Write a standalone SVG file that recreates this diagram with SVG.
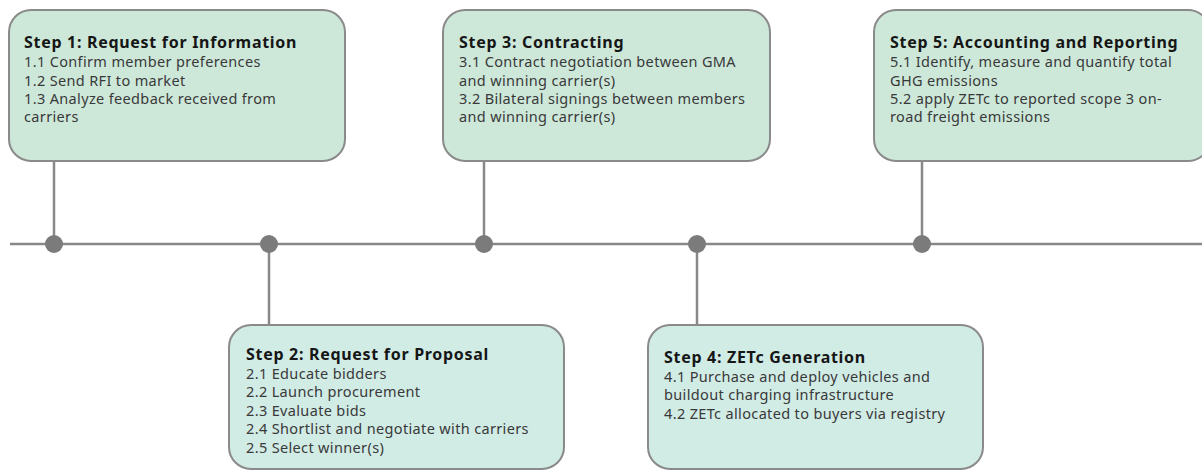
<svg xmlns="http://www.w3.org/2000/svg" width="1202" height="473" viewBox="0 0 1202 473">
<style>
.box{stroke:#8a8a8a;stroke-width:2}
.top{fill:#cde8d9}
.bot{fill:#d1ebe5}
.t{font-family:"Noto Sans","Liberation Sans",sans-serif;font-weight:bold;font-size:16px;letter-spacing:0.7px;fill:#161616}
.b{font-family:"Noto Sans","Liberation Sans",sans-serif;font-size:14.5px;letter-spacing:0.35px;fill:#393939}
.ln{stroke:#888;stroke-width:2.5;fill:none}
.dot{fill:#7b7b7b}
</style>
<g id="connectors">
<line class="ln" x1="10" y1="244" x2="1202" y2="244"/>
<line class="ln" x1="54" y1="161" x2="54" y2="244"/>
<line class="ln" x1="269" y1="244" x2="269" y2="325"/>
<line class="ln" x1="484" y1="161" x2="484" y2="244"/>
<line class="ln" x1="697" y1="244" x2="697" y2="325"/>
<line class="ln" x1="922" y1="161" x2="922" y2="244"/>
<circle class="dot" cx="54" cy="244" r="9"/>
<circle class="dot" cx="269" cy="244" r="9"/>
<circle class="dot" cx="484" cy="244" r="9"/>
<circle class="dot" cx="697" cy="244" r="9"/>
<circle class="dot" cx="922" cy="244" r="9"/>
</g>
<g id="step1">
<rect class="box top" x="9" y="10" width="336" height="151" rx="22"/>
<text class="t" x="24" y="48">Step 1: Request for Information</text>
<text class="b" x="24" y="67">1.1 Confirm member preferences</text>
<text class="b" x="24" y="86">1.2 Send RFI to market</text>
<text class="b" x="24" y="104">1.3 Analyze feedback received from</text>
<text class="b" x="24" y="122">carriers</text>
</g>
<g id="step3">
<rect class="box top" x="443" y="10" width="327" height="151" rx="22"/>
<text class="t" x="459" y="48">Step 3: Contracting</text>
<text class="b" x="459" y="67">3.1 Contract negotiation between GMA</text>
<text class="b" x="459" y="86">and winning carrier(s)</text>
<text class="b" x="459" y="104">3.2 Bilateral signings between members</text>
<text class="b" x="459" y="122">and winning carrier(s)</text>
</g>
<g id="step5">
<rect class="box top" x="874" y="10" width="336" height="151" rx="22"/>
<text class="t" x="890" y="48">Step 5: Accounting and Reporting</text>
<text class="b" x="890" y="67">5.1 Identify, measure and quantify total</text>
<text class="b" x="890" y="86">GHG emissions</text>
<text class="b" x="890" y="104">5.2 apply ZETc to reported scope 3 on-</text>
<text class="b" x="890" y="122">road freight emissions</text>
</g>
<g id="step2">
<rect class="box bot" x="229" y="325" width="335" height="144" rx="22"/>
<text class="t" x="246" y="360">Step 2: Request for Proposal</text>
<text class="b" x="246" y="379">2.1 Educate bidders</text>
<text class="b" x="246" y="397">2.2 Launch procurement</text>
<text class="b" x="246" y="416">2.3 Evaluate bids</text>
<text class="b" x="246" y="434">2.4 Shortlist and negotiate with carriers</text>
<text class="b" x="246" y="453">2.5 Select winner(s)</text>
</g>
<g id="step4">
<rect class="box bot" x="648" y="325" width="335" height="144" rx="22"/>
<text class="t" x="664" y="363">Step 4: ZETc Generation</text>
<text class="b" x="664" y="382">4.1 Purchase and deploy vehicles and</text>
<text class="b" x="664" y="400">buildout charging infrastructure</text>
<text class="b" x="664" y="419">4.2 ZETc allocated to buyers via registry</text>
</g>
</svg>
